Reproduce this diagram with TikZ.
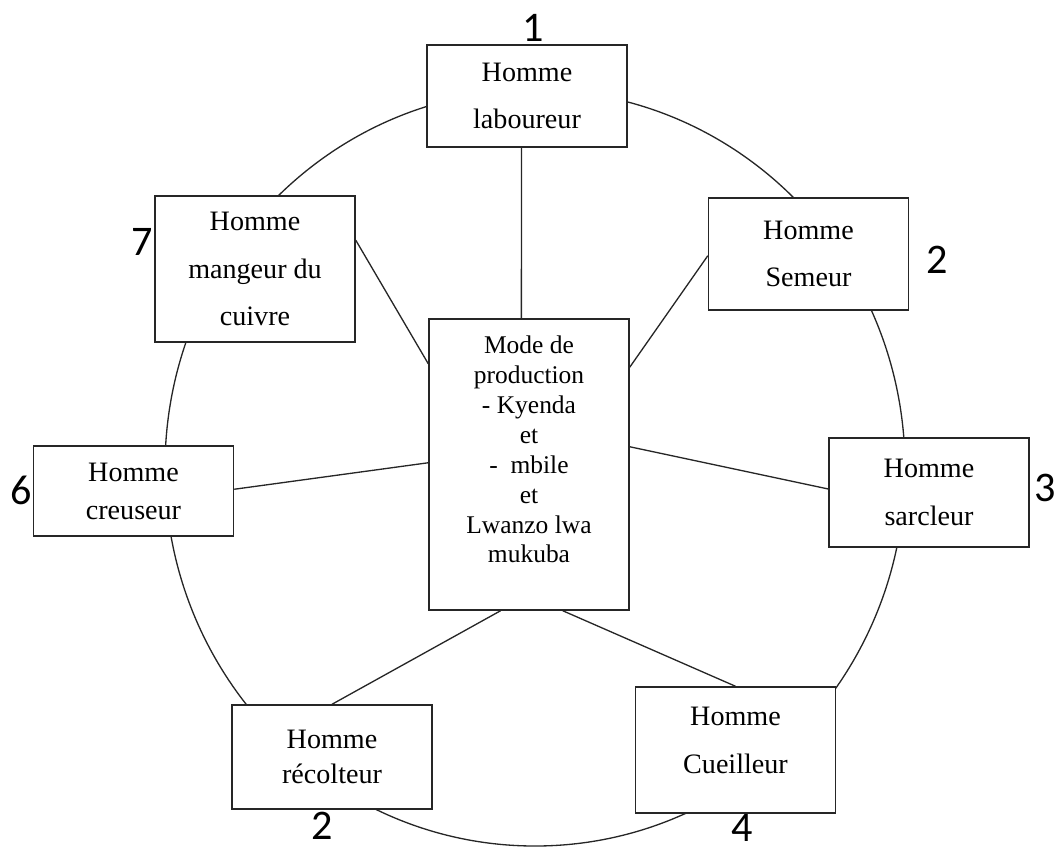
\documentclass[tikz,border=0pt]{standalone}
\usepackage{fontspec}
\setmainfont{Liberation Serif}
\newfontfamily\digitfont{Carlito}
\begin{document}
\begin{tikzpicture}[x=0.02cm,y=-0.02cm,
  box/.style={draw=black!85,fill=white,line width=.85pt,minimum width=4cm,inner sep=2pt,align=center,font=\fontsize{16}{27}\selectfont},
  num/.style={inner sep=1pt,font=\digitfont\fontsize{24}{24}\selectfont},
  spoke/.style={draw=black!85,line width=.75pt}]
\useasboundingbox (0,0) rectangle (1058,850);
\draw[spoke] (535,468) ellipse [x radius=370,y radius=378];
% the seven men round the centre
\node[box,minimum height=2.04cm] (lab) at (527,96) {Homme\\laboureur};
\node[box,minimum height=2.24cm] (sem) at (808.5,254) {Homme\\Semeur};
\node[box,minimum height=2.18cm] (sar) at (929,492.5) {Homme\\sarcleur};
\node[box,minimum height=2.52cm] (cue) at (735.5,750) {Homme\\Cueilleur\\[-16pt]\mbox{}};
\node[box,minimum height=2.08cm,font=\fontsize{16}{20}\selectfont] (rec) at (332,757) {Homme\\récolteur};
\node[box,minimum height=1.8cm,font=\fontsize{16}{21.6}\selectfont] (cre) at (133.5,491) {Homme\\creuseur};
\node[box,minimum height=2.92cm] (man) at (255,269) {Homme\\mangeur du\\cuivre};
\node[box,minimum height=5.82cm,font=\fontsize{14.5}{17}\selectfont] (mode) at (529,464.5)
  {Mode de\\production\\- Kyenda\\et\\-~~mbile\\et\\Lwanzo lwa\\mukuba\\\mbox{}};
\foreach \a/\b in {lab.264/mode.93,man.16/mode.135,sem.181/mode.44,cre.1/mode.179,
  sar.178/mode.10,rec.90/mode.259,cue.90/mode.283}
  \draw[spoke] (\a) -- (\b);
% numbers
\node[num] (n1) at (533,28) {1};
\node[num] (n2) at (937,260) {2};
\node[num] (n3) at (1045,488) {3};
\node[num] (n4) at (742,828) {4};
\node[num] (n5) at (322,826) {2};
\node[num] (n6) at (21,490) {6};
\node[num] (n7) at (142,242) {7};
\end{tikzpicture}
\end{document}
